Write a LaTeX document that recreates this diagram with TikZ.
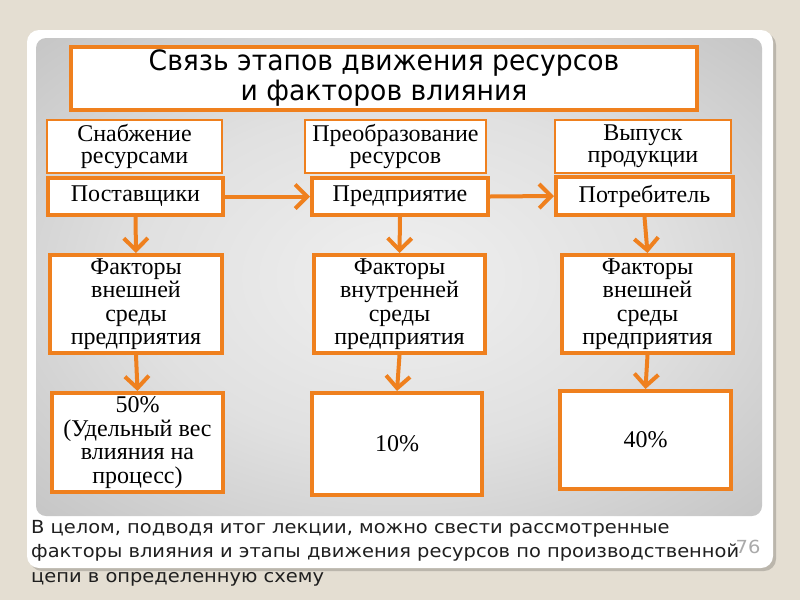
\documentclass[tikz,border=0pt]{standalone}
\usepackage{fontspec}
\setmainfont{Liberation Serif}
\newfontfamily\djv{DejaVu Sans}
\newfontfamily\djvtitle[FakeStretch=0.95]{DejaVu Sans}
\newfontfamily\djvnote[FakeStretch=1.08]{DejaVu Sans}
\usetikzlibrary{arrows.meta,calc}
\definecolor{bgbeige}{RGB}{228,222,210}
\definecolor{orng}{RGB}{239,128,30}
\definecolor{pnum}{RGB}{170,170,170}
\pgfdeclareradialshading{panelshade}{\pgfpoint{0bp}{0bp}}{color(0bp)=(white!94!black); color(18bp)=(white!88!black); color(38bp)=(white!76!black); color(50bp)=(white!64!black)}
\tikzset{
  hdr/.style={draw=orng, line width=2.5pt, fill=white, align=center, inner sep=1pt,
    font=\fontsize{24}{22}\selectfont},
  actor/.style={draw=orng, line width=4pt, fill=white, align=center, inner sep=1pt,
    font=\fontsize{24}{22}\selectfont},
  fbox/.style={draw=orng, line width=4pt, fill=white, align=center, inner sep=1pt,
    font=\fontsize{24}{23.5}\selectfont},
  flow/.style={draw=orng, line width=4pt, -{Straight Barb[length=12pt,width=24pt,line width=4pt]}},
}
\begin{document}
\begin{tikzpicture}[x=1pt,y=-1pt]
\useasboundingbox (0,0) rectangle (800,600);
\fill[bgbeige] (0,0) rectangle (800,600);
% card shadow and card
\fill[black!18!bgbeige, rounded corners=12pt] (30,33) rectangle (776,571);
\fill[white, rounded corners=12pt] (27,30) rectangle (773,568);
% gradient panel
\shade[shading=panelshade, rounded corners=10pt] (36,38) rectangle (762,516);
% page number
\node[text=pnum, font=\djvnote\fontsize{18}{20}\selectfont, anchor=base] (pn) at (748,553) {76};
% title
\node[draw=orng, line width=4pt, fill=white, minimum width=626pt, minimum height=63pt,
  align=center, font=\djvtitle\fontsize{28}{30}\selectfont, inner sep=0pt] (title) at (384,78.5)
  {Связь этапов движения ресурсов\\и факторов влияния};
% header boxes
\node[hdr, minimum width=175pt, minimum height=53pt] (h1) at (134.5,146.5) {Снабжение\\ресурсами};
\node[hdr, minimum width=181pt, minimum height=53pt] (h2) at (395.5,146.5) {Преобразование\\ресурсов};
\node[hdr, minimum width=176pt, minimum height=53pt] (h3) at (643,146.5) {Выпуск\\продукции};
% actors
\node[actor, minimum width=175pt, minimum height=37pt] (r1) at (135.5,196.5) {Поставщики};
\node[actor, minimum width=176pt, minimum height=37pt] (r2) at (400,196.5) {Предприятие};
\node[actor, minimum width=177pt, minimum height=38pt] (r3) at (644.5,196) {Потребитель};
% factor boxes
\node[fbox, minimum width=172pt, minimum height=98pt] (f1) at (136,304) {Факторы\\внешней\\среды\\предприятия};
\node[fbox, minimum width=171pt, minimum height=98pt] (f2) at (399.5,304) {Факторы\\внутренней\\среды\\предприятия};
\node[fbox, minimum width=171pt, minimum height=98pt] (f3) at (647.5,304) {Факторы\\внешней\\среды\\предприятия};
% percentage boxes
\node[fbox, minimum width=171pt, minimum height=99pt] (p1) at (137.5,442.5) {50\%\\(Удельный вес\\влияния на\\процесс)};
\node[fbox, minimum width=170pt, minimum height=102pt] (p2) at (397,444) {10\%};
\node[fbox, minimum width=171pt, minimum height=98pt] (p3) at (645.5,440) {40\%};
% connectors
\draw[flow] (r1.east) -- (r2.west);
\draw[flow] (r2.east) -- (r3.west);
\draw[flow] (r1.south) -- (f1.north);
\draw[flow] (r2.south) -- (f2.north);
\draw[flow] (r3.south) -- (f3.north);
\draw[flow] (f1.south) -- (p1.north);
\draw[flow] (f2.south) -- (p2.north);
\draw[flow] (f3.south) -- (p3.north);
% bottom text
\node[anchor=base west, align=left, inner sep=0pt, text=black!88,
  font=\djvnote\fontsize{18}{24.5}\selectfont] (note) at (31,582)
  {В целом, подводя итог лекции, можно свести рассмотренные\\
   факторы влияния и этапы движения ресурсов по производственной\\
   цепи в определенную схему};
\end{tikzpicture}
\end{document}
